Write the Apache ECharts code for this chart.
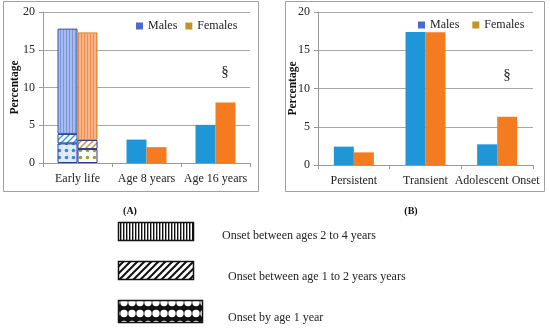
<!DOCTYPE html>
<html><head><meta charset="utf-8">
<script src="https://cdn.jsdelivr.net/npm/echarts@6/dist/echarts.min.js"></script>
<style>html,body{margin:0;padding:0;background:#fff}#c{width:550px;height:328px}</style>
</head><body><div id="c"></div>
<script>
// ---- Data ----
const categoriesA = ['Early life', 'Age 8 years', 'Age 16 years'];
const categoriesB = ['Persistent', 'Transient', 'Adolescent Onset'];
const yTicks = [0, 5, 10, 15, 20];
// Early life cumulative tops: [onset by age 1, onset 1-2 years, onset 2-4 years (total)]
const earlyLifeMales = [2.6, 3.85, 17.8];
const earlyLifeFemales = [1.85, 3.05, 17.3];
// Later ages in panel A (Age 8, Age 16)
const laterMales = [3.1, 5.05];
const laterFemales = [2.1, 8.0];
// Panel B
const malesB = [2.4, 17.4, 2.7];
const femalesB = [1.65, 17.35, 6.3];
const legendPatternLabels = ['Onset between ages 2 to 4 years', 'Onset between age 1 to 2 years years', 'Onset by age 1 year'];

const SERIF = '"Liberation Serif", "DejaVu Serif", serif';
const MALE = '#1e96d8', FEMALE = '#f47b20';

function makePattern(w, h, draw) {
  const c = document.createElement('canvas'); c.width = w; c.height = h;
  const ctx = c.getContext('2d'); draw(ctx, w, h);
  return { image: c, repeat: 'repeat' };
}
function stripes(bg, fg) { return makePattern(3, 1, (x) => { x.fillStyle = bg; x.fillRect(0,0,3,1); x.fillStyle = fg; x.fillRect(0,0,1,1); }); }
function hatch(bg, fg, s, lw) { return makePattern(s, s, (x) => { x.fillStyle = bg; x.fillRect(0,0,s,s); x.strokeStyle = fg; x.lineWidth = lw; x.beginPath();
  x.moveTo(0,s); x.lineTo(s,0); x.moveTo(-s/2,s/2); x.lineTo(s/2,-s/2); x.moveTo(s/2,s*1.5); x.lineTo(s*1.5,s/2); x.stroke(); }); }
function dots(bg, fg, s, r) { return makePattern(s, s, (x) => { x.fillStyle = bg; x.fillRect(0,0,s,s); x.fillStyle = fg;
  x.beginPath(); x.arc(s/2, s/2, r, 0, Math.PI*2); x.fill(); }); }

const mStripe = stripes('#a9bcee', '#7b95dd');
const fStripe = stripes('#f8b488', '#f09050');
const mHatch = hatch('#ffffff', '#2fa0dc', 6, 1.5);
const fHatch = hatch('#ffffff', '#d9913a', 6, 1.5);
const mDots = dots('#dcedf8', '#4a80d8', 7, 1.8);
const fDots = dots('#ffffff', '#a8a030', 7, 1.8);

const lgStripe = makePattern(3, 1, (x) => { x.fillStyle = '#fff'; x.fillRect(0,0,3,1); x.fillStyle = '#111'; x.fillRect(0,0,1.4,1); });
const lgHatch = hatch('#ffffff', '#111111', 7, 2);
const lgDots = makePattern(8, 11, (x) => { x.fillStyle = '#111'; x.fillRect(0,0,8,11); x.fillStyle = '#fff';
  x.beginPath(); x.arc(4, 5.5, 3.7, 0, Math.PI*2); x.fill(); });

function seg(arr, i) { return i === 0 ? arr[0] : +(arr[i] - arr[i-1]).toFixed(3); }

const chart = echarts.init(document.getElementById('c'), null, { renderer: 'canvas' });

const axisLabel = { color: '#222', fontFamily: SERIF, fontSize: 12 };
function xAxis(idx, cats) {
  return { type: 'category', gridIndex: idx, data: cats,
    axisLine: { lineStyle: { color: '#9a9a9a' } }, axisTick: { show: true, length: 4, lineStyle: { color: '#9a9a9a' } },
    axisLabel: Object.assign({ margin: 10, interval: 0 }, axisLabel) };
}
function yAxis(idx, gap) {
  return { type: 'value', gridIndex: idx, min: 0, max: 20, interval: 5,
    name: 'Percentage', nameLocation: 'middle', nameGap: gap, nameMoveOverlap: false,
    nameTextStyle: { fontFamily: SERIF, fontWeight: 'bold', fontSize: 11.5, color: '#111' },
    axisLine: { show: true, lineStyle: { color: '#9a9a9a' } }, axisTick: { show: true, length: 4, lineStyle: { color: '#9a9a9a' } },
    splitLine: { lineStyle: { color: '#a8a8a8' } },
    axisLabel: Object.assign({ margin: 8 }, axisLabel) };
}

const bw = 20;
const series = [
  { name: 'Males', type: 'bar', xAxisIndex: 0, yAxisIndex: 0, stack: 'm', barWidth: bw, barGap: '0%', color: MALE,
    data: [{ value: seg(earlyLifeMales, 0), itemStyle: { color: mDots, borderColor: '#2c3a90', borderWidth: 1 } }, laterMales[0], laterMales[1]] },
  { name: 'mh', type: 'bar', xAxisIndex: 0, yAxisIndex: 0, stack: 'm', barWidth: bw, barGap: '0%',
    itemStyle: { color: mHatch, borderColor: '#2c3a90', borderWidth: 1 }, data: [seg(earlyLifeMales, 1), '-', '-'] },
  { name: 'ms', type: 'bar', xAxisIndex: 0, yAxisIndex: 0, stack: 'm', barWidth: bw, barGap: '0%',
    itemStyle: { color: mStripe, borderColor: '#3b4fa8', borderWidth: 1 }, data: [seg(earlyLifeMales, 2), '-', '-'] },
  { name: 'Females', type: 'bar', xAxisIndex: 0, yAxisIndex: 0, stack: 'f', barWidth: bw, barGap: '0%', color: FEMALE,
    data: [{ value: seg(earlyLifeFemales, 0), itemStyle: { color: fDots, borderColor: '#2c3a90', borderWidth: 1 } }, laterFemales[0], laterFemales[1]] },
  { name: 'fh', type: 'bar', xAxisIndex: 0, yAxisIndex: 0, stack: 'f', barWidth: bw, barGap: '0%',
    itemStyle: { color: fHatch, borderColor: '#2c3a90', borderWidth: 1 }, data: [seg(earlyLifeFemales, 1), '-', '-'] },
  { name: 'fs', type: 'bar', xAxisIndex: 0, yAxisIndex: 0, stack: 'f', barWidth: bw, barGap: '0%',
    itemStyle: { color: fStripe, borderColor: '#d4902e', borderWidth: 1 }, data: [seg(earlyLifeFemales, 2), '-', '-'] },
  { name: 'Males', type: 'bar', xAxisIndex: 1, yAxisIndex: 1, barWidth: bw, barGap: '0%', color: MALE, data: malesB },
  { name: 'Females', type: 'bar', xAxisIndex: 1, yAxisIndex: 1, barWidth: bw, barGap: '0%', color: FEMALE, data: femalesB }
];

const legendData = [{ name: 'Males', itemStyle: { color: '#4a6ad0' } }, { name: 'Females', itemStyle: { color: '#c0962a' } }];
const legendText = { fontFamily: SERIF, fontSize: 12, color: '#222' };

const graphic = [
  { type: 'rect', shape: { x: 3.5, y: 1.5, width: 255, height: 190 }, style: { fill: 'none', stroke: '#a0a0a0', lineWidth: 1 }, z: -1 },
  { type: 'rect', shape: { x: 285.5, y: 1.5, width: 259, height: 190 }, style: { fill: 'none', stroke: '#a0a0a0', lineWidth: 1 }, z: -1 },
  { type: 'text', x: 225, y: 72, style: { text: '§', font: '15px ' + SERIF, fill: '#222', align: 'center', verticalAlign: 'middle' } },
  { type: 'text', x: 507, y: 75, style: { text: '§', font: '15px ' + SERIF, fill: '#222', align: 'center', verticalAlign: 'middle' } },
  { type: 'text', x: 130, y: 211, style: { text: '(A)', font: 'bold 10px ' + SERIF, fill: '#111', align: 'center', verticalAlign: 'middle' } },
  { type: 'text', x: 411, y: 211, style: { text: '(B)', font: 'bold 10px ' + SERIF, fill: '#111', align: 'center', verticalAlign: 'middle' } },
  { type: 'rect', shape: { x: 118.5, y: 222.5, width: 75, height: 18 }, style: { fill: lgStripe, stroke: '#111', lineWidth: 1.5 } },
  { type: 'rect', shape: { x: 118.5, y: 261.5, width: 75, height: 18 }, style: { fill: lgHatch, stroke: '#111', lineWidth: 1.5 } },
  { type: 'rect', shape: { x: 118.5, y: 300.5, width: 84, height: 22 }, style: { fill: lgDots, stroke: '#111', lineWidth: 1.5 } },
  { type: 'text', x: 222, y: 236, style: { text: legendPatternLabels[0], font: '12px ' + SERIF, fill: '#222', verticalAlign: 'middle' } },
  { type: 'text', x: 228, y: 277, style: { text: legendPatternLabels[1], font: '12px ' + SERIF, fill: '#222', verticalAlign: 'middle' } },
  { type: 'text', x: 228, y: 318, style: { text: legendPatternLabels[2], font: '12px ' + SERIF, fill: '#222', verticalAlign: 'middle' } }
];

chart.setOption({
  animation: false,
  grid: [
    { left: 43, right: 300, top: 12, bottom: 165 },
    { left: 318, right: 17, top: 12, bottom: 163 }
  ],
  xAxis: [xAxis(0, categoriesA), xAxis(1, categoriesB)],
  yAxis: [yAxis(0, 22), yAxis(1, 19)],
  legend: [
    { data: legendData, left: 131, top: 15, icon: 'rect', itemWidth: 7, itemHeight: 7, itemGap: 8, textStyle: legendText, selectedMode: false },
    { data: legendData, left: 413, top: 14, icon: 'rect', itemWidth: 7, itemHeight: 7, itemGap: 13, textStyle: legendText, selectedMode: false }
  ],
  series: series,
  graphic: graphic
});
</script></body></html>
